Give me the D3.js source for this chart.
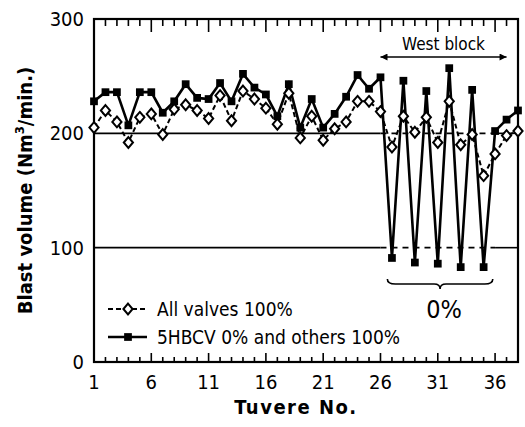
<!DOCTYPE html>
<html>
<head>
<meta charset="utf-8">
<script src="https://cdn.jsdelivr.net/npm/d3@7"></script>
<style>
  html, body { margin: 0; padding: 0; background: #fff; }
  svg text { font-family: "DejaVu Sans Condensed", "Liberation Sans Narrow", "Liberation Sans", sans-serif; fill: #000; }
</style>
</head>
<body>
<svg id="chart" width="525" height="427"></svg>
<script>
// tuyere numbers 1..38
const tuyeres = d3.range(1, 39);

// blast volume, all valves at 100%
const allValves = [
  205, 220, 210, 192, 214, 217, 199, 221, 225, 220,
  213, 233, 211, 237, 230, 222, 208, 235, 196, 215,
  194, 204, 210, 228, 228, 219, 188, 215, 201, 214,
  192, 228, 190, 199, 163, 182, 198, 202
];

// blast volume, 5 HBCV closed (0%) and the others at 100%
const hbcvClosed = [
  228, 236, 236, 207, 236, 236, 218, 228, 243, 231,
  230, 244, 228, 252, 240, 234, 215, 243, 205, 230,
  205, 217, 232, 251, 239, 249, 91, 246, 87, 237,
  86, 257, 83, 238, 83, 202, 212, 220
];

const xTickLabels = [1, 6, 11, 16, 21, 26, 31, 36];
const yTickLabels = [0, 100, 200, 300];
const gridValues  = [100, 200];
const westBlock   = [26, 37];      // arrow span
const closedSpan  = [26.6, 35.8];  // brace span
const seriesNames = ['All valves 100%', '5HBCV 0% and others 100%'];

const LEFT = 94, RIGHT = 518, TOP = 19, BOTTOM = 362;

const svg = d3.select('#chart');

const x = d3.scaleLinear().domain([1, 38]).range([LEFT, RIGHT]);
const y = d3.scaleLinear().domain([0, 300]).range([BOTTOM, TOP]);

// grid lines: solid outside the west block, broken inside it
gridValues.forEach(v => {
  const segs = [
    [1, westBlock[0], null],
    [westBlock[0], 36, '6,5'],
    [36, 38, null]
  ];
  segs.forEach(s => {
    svg.append('line')
      .attr('x1', x(s[0])).attr('x2', x(s[1]))
      .attr('y1', y(v)).attr('y2', y(v))
      .attr('stroke', '#000')
      .attr('stroke-width', 1.6)
      .attr('stroke-dasharray', s[2]);
  });
});

// frame
svg.append('rect')
  .attr('x', LEFT).attr('y', TOP)
  .attr('width', RIGHT - LEFT).attr('height', BOTTOM - TOP)
  .attr('fill', 'none')
  .attr('stroke', '#000')
  .attr('stroke-width', 2.2);

// ticks on top and bottom, pointing inward
tuyeres.forEach(t => {
  const major = (t - 1) % 5 === 0;
  svg.append('line')
    .attr('x1', x(t)).attr('x2', x(t))
    .attr('y1', TOP).attr('y2', TOP + (major ? 13 : 7))
    .attr('stroke', '#000').attr('stroke-width', 1.6);
  svg.append('line')
    .attr('x1', x(t)).attr('x2', x(t))
    .attr('y1', BOTTOM + 1).attr('y2', BOTTOM - (major ? 9 : 5))
    .attr('stroke', '#000').attr('stroke-width', 1.6);
});

// tick labels
svg.selectAll('.xlab')
  .data(xTickLabels)
  .join('text')
  .attr('x', d => x(d))
  .attr('y', 389)
  .attr('text-anchor', 'middle')
  .attr('font-size', 20)
  .text(d => d);

svg.selectAll('.ylab')
  .data(yTickLabels)
  .join('text')
  .attr('x', 84)
  .attr('y', d => y(d) + 7)
  .attr('text-anchor', 'end')
  .attr('font-size', 20)
  .text(d => d);

// axis titles
svg.append('text')
  .attr('x', (LEFT + RIGHT) / 2 - 10)
  .attr('y', 414)
  .attr('text-anchor', 'middle')
  .attr('font-size', 20)
  .attr('font-weight', 'bold')
  .attr('letter-spacing', 1.5)
  .text('Tuvere No.');

const ytitle = svg.append('text')
  .attr('transform', `translate(32,${(TOP + BOTTOM) / 2}) rotate(-90)`)
  .attr('text-anchor', 'middle')
  .attr('font-size', 20)
  .attr('font-weight', 'bold');
ytitle.append('tspan').text('Blast volume (Nm');
ytitle.append('tspan').attr('font-size', 13).attr('dy', -8).text('3');
ytitle.append('tspan').attr('dy', 8).text('/min.)');

// series lines
const line = d3.line()
  .x((d, i) => x(tuyeres[i]))
  .y(d => y(d));

svg.append('path')
  .datum(allValves)
  .attr('d', line)
  .attr('fill', 'none')
  .attr('stroke', '#000')
  .attr('stroke-width', 2)
  .attr('stroke-dasharray', '5,3');

svg.append('path')
  .datum(hbcvClosed)
  .attr('d', line)
  .attr('fill', 'none')
  .attr('stroke', '#000')
  .attr('stroke-width', 2.6);

// rhombus a little taller than wide
const rhombus = {
  draw(ctx, size) {
    const w = 4.6, h = 5.4;
    ctx.moveTo(0, -h);
    ctx.lineTo(w, 0);
    ctx.lineTo(0, h);
    ctx.lineTo(-w, 0);
    ctx.closePath();
  }
};
const diamond = d3.symbol().type(rhombus);
const square  = d3.symbol().type(d3.symbolSquare).size(60);

svg.selectAll('.sq')
  .data(hbcvClosed)
  .join('path')
  .attr('d', square)
  .attr('transform', (d, i) => `translate(${x(tuyeres[i])},${y(d)})`)
  .attr('fill', '#000');

svg.selectAll('.dm')
  .data(allValves)
  .join('path')
  .attr('d', diamond)
  .attr('transform', (d, i) => `translate(${x(tuyeres[i])},${y(d)})`)
  .attr('fill', '#fff')
  .attr('stroke', '#000')
  .attr('stroke-width', 2);

// legend
const legendRows = [
  {name: seriesNames[0], y: 309, dash: '5,3', sym: diamond, fill: '#fff'},
  {name: seriesNames[1], y: 337, dash: null, sym: square, fill: '#000'}
];
legendRows.forEach(r => {
  svg.append('line')
    .attr('x1', 108).attr('x2', 147)
    .attr('y1', r.y).attr('y2', r.y)
    .attr('stroke', '#000')
    .attr('stroke-width', r.dash ? 2 : 2.6)
    .attr('stroke-dasharray', r.dash);
  svg.append('path')
    .attr('d', r.sym)
    .attr('transform', `translate(128,${r.y})`)
    .attr('fill', r.fill)
    .attr('stroke', '#000')
    .attr('stroke-width', r.dash ? 2 : 0);
  svg.append('text')
    .attr('x', 157)
    .attr('y', r.y + 7)
    .attr('font-size', 19)
    .text(r.name);
});

// west block annotation
const arrowY = 57;
svg.append('defs').selectAll('marker')
  .data(['start', 'end'])
  .join('marker')
  .attr('id', d => 'arr-' + d)
  .attr('viewBox', '0 0 10 10')
  .attr('refX', d => d === 'end' ? 10 : 0)
  .attr('refY', 5)
  .attr('markerWidth', 11)
  .attr('markerHeight', 7)
  .attr('markerUnits', 'userSpaceOnUse')
  .attr('orient', 'auto')
  .append('path')
  .attr('d', d => d === 'end' ? 'M0,0L10,5L0,10Z' : 'M10,0L0,5L10,10Z')
  .attr('fill', '#000');

svg.append('line')
  .attr('x1', x(westBlock[0])).attr('x2', x(westBlock[1]))
  .attr('y1', arrowY).attr('y2', arrowY)
  .attr('stroke', '#000').attr('stroke-width', 1.4)
  .attr('marker-start', 'url(#arr-start)')
  .attr('marker-end', 'url(#arr-end)');

svg.append('text')
  .attr('x', (x(westBlock[0]) + x(westBlock[1])) / 2)
  .attr('y', 50)
  .attr('text-anchor', 'middle')
  .attr('font-family', '"Liberation Sans", Arial, sans-serif')
  .attr('font-size', 17)
  .text('West block');

// brace under the closed valves
const bx0 = x(closedSpan[0]), bx1 = x(closedSpan[1]), bm = (bx0 + bx1) / 2;
const by = 284;
svg.append('path')
  .attr('d', `M${bx0},${by - 5} Q${bx0},${by} ${bx0 + 8},${by}
              L${bm - 6},${by} Q${bm},${by} ${bm},${by + 5}
              Q${bm},${by} ${bm + 6},${by}
              L${bx1 - 8},${by} Q${bx1},${by} ${bx1},${by - 5}`)
  .attr('fill', 'none')
  .attr('stroke', '#000')
  .attr('stroke-width', 1.6);

svg.append('text')
  .attr('x', bm + 4)
  .attr('y', 318)
  .attr('text-anchor', 'middle')
  .attr('font-size', 25)
  .text('0%');
</script>
</body>
</html>
